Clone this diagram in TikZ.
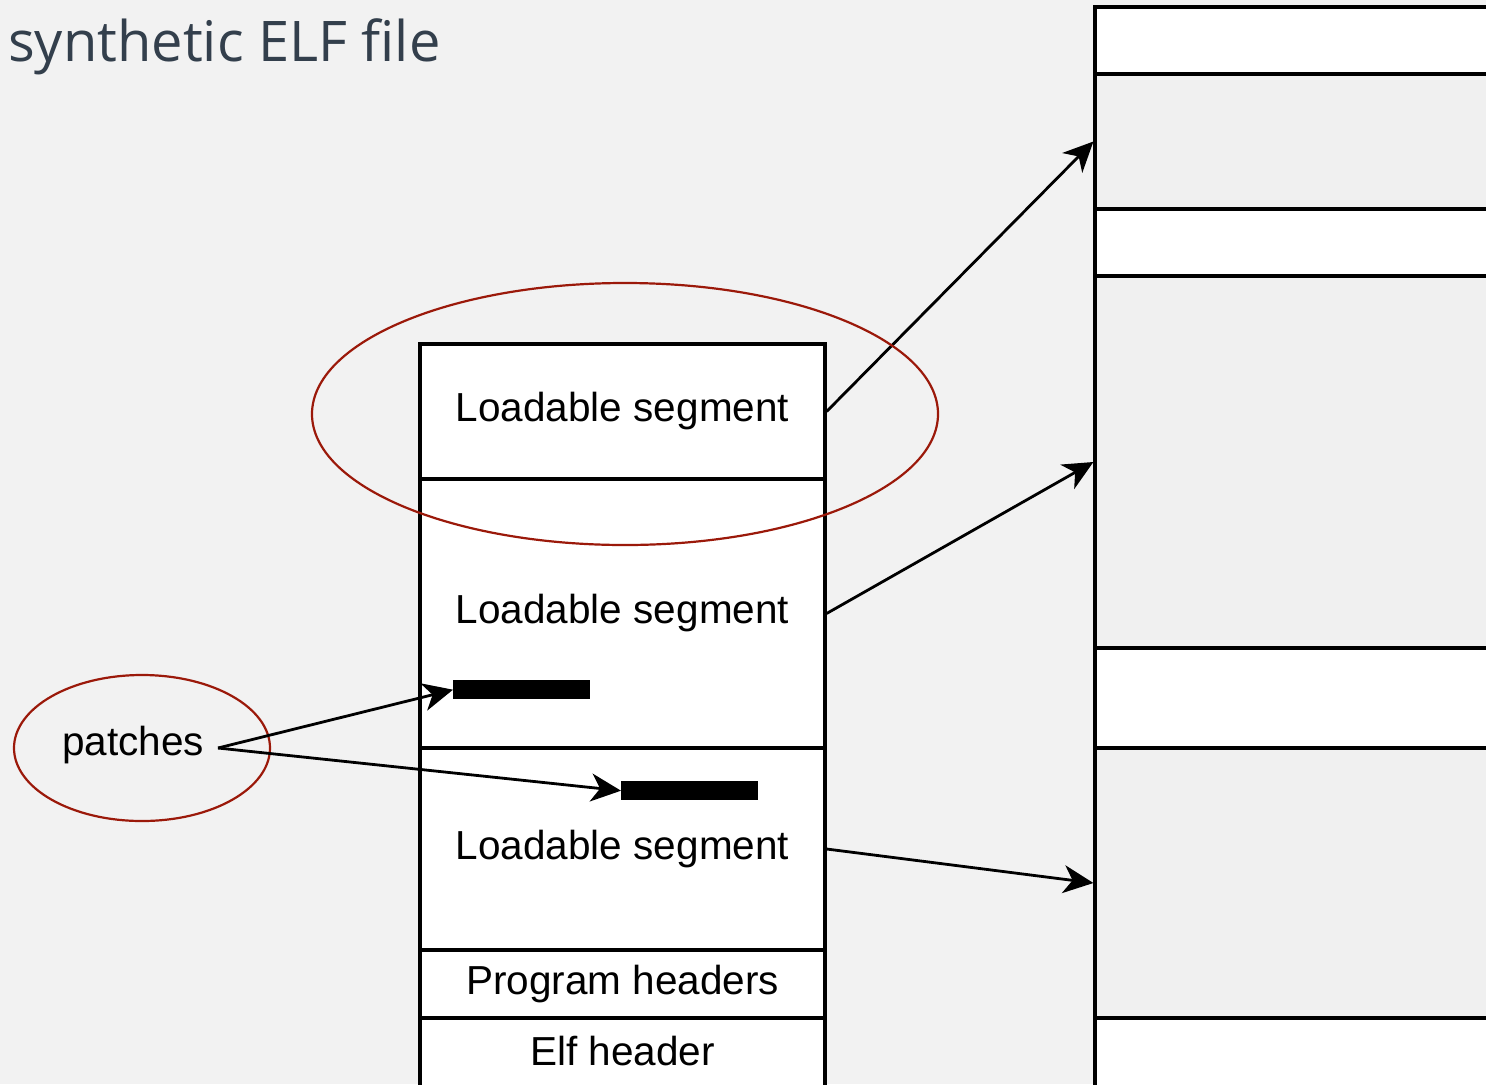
\documentclass[tikz,border=0pt]{standalone}
\usepackage{fontspec}
\setmainfont{Liberation Sans}
\newfontfamily\titlefont{Open Sans}
\usetikzlibrary{arrows.meta,shapes.geometric}
\definecolor{bg}{RGB}{242,242,242}
\definecolor{shade}{RGB}{240,240,240}
\definecolor{ring}{RGB}{155,25,10}
\definecolor{titleink}{RGB}{51,63,76}

\begin{document}
\begin{tikzpicture}[x=1bp,y=-1bp,
  cell/.style={draw=black, line width=3.2bp, fill=white, inner sep=0pt, outer sep=0pt,
    anchor=north west, minimum width=405bp, font=\fontsize{40.5bp}{48bp}\selectfont},
  memcell/.style={cell, minimum width=520bp},
  shaded/.style={memcell, fill=shade},
  bar/.style={fill=black, inner sep=0pt, minimum width=137bp, minimum height=19bp, anchor=north west},
  link/.style={line width=2.8bp, -{Stealth[length=30bp,width=28bp,inset=9bp]}},
  ringed/.style={draw=ring, line width=2.2bp, ellipse, inner sep=0pt},
  lbl/.style={font=\fontsize{40.5bp}{48bp}\selectfont, inner sep=0pt}
]
\useasboundingbox (0,0) rectangle (1486,1084);
\clip (0,0) rectangle (1486,1084);
\fill[bg] (0,0) rectangle (1486,1084);

% memory image on the right
\node[memcell, minimum height=67bp]  (r1) at (1095,7)    {};
\node[shaded,  minimum height=135bp] (r2) at (1095,74)   {};
\node[memcell, minimum height=67bp]  (r3) at (1095,209)  {};
\node[shaded,  minimum height=372bp] (r4) at (1095,276)  {};
\node[memcell, minimum height=100bp] (r5) at (1095,648)  {};
\node[shaded,  minimum height=270bp] (r6) at (1095,748)  {};
\node[memcell, minimum height=120bp] (r7) at (1095,1018) {};

% file layout on the left
\node[cell, minimum height=135bp] (seg1) at (420,344) {Loadable segment};
\node[cell, minimum height=269bp] (seg2) at (420,479) {Loadable segment};
\node[cell, minimum height=202bp] (seg3) at (420,748) {Loadable segment};
\node[cell, minimum height=68bp]  (ph)   at (420,950) {Program headers};
\node[cell, minimum height=66bp, draw=none] (eh) at (420,1018) {Elf header};
\draw[line width=3.2bp] ([yshift=-40bp]eh.south west) -- (eh.north west)
  -- (eh.north east) -- ([yshift=-40bp]eh.south east);

% patched regions
\node[bar] (bar1) at (453,680) {};
\node[bar] (bar2) at (621,781) {};

% segment mappings
\draw[link] ([xshift=1.6bp]seg1.east) -- ([xshift=-1.6bp]r2.west);
\draw[link] ([xshift=1.6bp]seg2.east) -- ([xshift=-1.6bp]r4.west);
\draw[link] ([xshift=1.6bp]seg3.east) -- ([xshift=-1.6bp]r6.west);

% highlight rings
\node[ringed, minimum width=626bp, minimum height=262bp] (ring1) at (625,414) {};
\node[ringed, minimum width=256bp, minimum height=146bp] (ring2) at (142,748) {};
\node[lbl] (patches) at (133,745) {patches};
\coordinate (pstart) at (218,748);
\draw[link] (pstart) -- (bar1.west);
\draw[link] (pstart) -- (bar2.west);

% title
\node[anchor=base west, inner sep=0pt, text=titleink,
  font=\titlefont\fontsize{56bp}{60bp}\selectfont] (title) at (8,61) {synthetic ELF file};
\end{tikzpicture}
\end{document}
